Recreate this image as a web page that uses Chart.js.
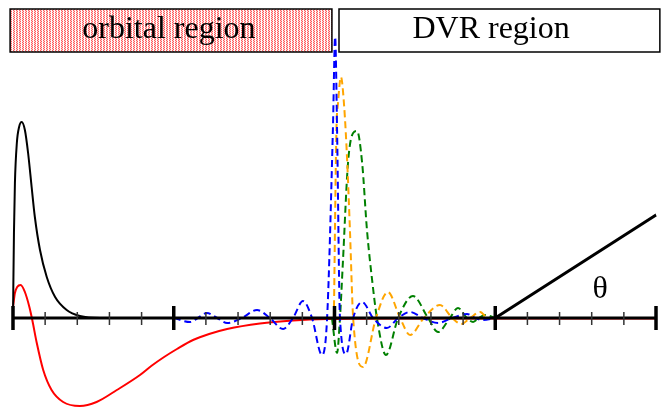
<!DOCTYPE html>
<html>
<head>
<meta charset="utf-8">
<script src="https://cdn.jsdelivr.net/npm/chart.js"></script>
<style>
  body { margin: 0; background: #fff; }
  canvas { display: block; }
</style>
</head>
<body>
<canvas id="fig" width="668" height="409"></canvas>
<script>
// radial coordinate r (0..20) and amplitude (arbitrary units)
const blackR = [0, 0.03, 0.06, 0.12, 0.19, 0.27, 0.37, 0.47, 0.58, 0.68, 0.84, 1.05, 1.31, 1.67, 2.08, 2.71, 5.0];
const blackY = [0, 85, 135, 175, 191, 196, 188, 165, 131, 101, 68, 41, 21, 8, 2, 0, 0];

const redR = [0, 0.06, 0.13, 0.24, 0.37, 0.51, 0.60, 0.74, 0.94, 1.20, 1.56, 2.08, 2.60, 3.23, 3.95, 4.30, 4.70, 5.10, 5.60, 6.10, 6.66, 7.68, 8.71, 9.77, 12.0, 20.0];
const redY = [11, 25, 31, 33, 26, 11, -2, -25, -52, -72, -84, -88, -84, -72, -57, -48, -39, -31, -22, -16, -11, -5.5, -2.5, -1, -0.5, -0.5];

const blueR = [5.0, 5.51, 5.75, 6.03, 6.35, 6.66, 7.12, 7.59, 7.99, 8.40, 8.71, 9.02, 9.30, 9.61, 9.77, 9.95, 10.02, 10.08, 10.17, 10.36, 10.58, 10.86, 11.20, 11.63, 11.98, 12.35, 12.75, 13.22, 13.66, 14.12, 14.37, 14.59, 15.0];
const blueY = [0, -4, 0, 5, 0, -5, 0, 8, 0, -11, 0, 17, 0, -37, 0, 188, 281, 188, 0, -36, 0, 16, 0, -10, 0, 6, 0, -5, 0, 4, 0, -2, 0];

const orangeR = [9.98, 10.06, 10.11, 10.20, 10.30, 10.39, 10.48, 10.58, 10.89, 11.29, 11.66, 12.04, 12.35, 12.78, 13.28, 13.66, 13.94, 14.22, 14.53, 14.77, 15.0];
const orangeY = [0, 188, 215, 241, 212, 160, 88, 0, -49, 0, 26, 0, -17, 0, 13, 0, -6, 0, 6, 0, 0];

const greenR = [9.92, 10.08, 10.17, 10.26, 10.42, 10.58, 10.70, 10.86, 11.01, 11.17, 11.32, 11.60, 11.98, 12.44, 12.91, 13.22, 13.59, 13.84, 14.12, 14.31, 14.49, 14.68, 15.0];
const greenY = [0, -35, 0, 55, 155, 185, 187, 155, 88, 38, 0, -37, 0, 22, 0, -14, 0, 10, 0, -4, 0, 3, 0];

const axisR = [0, 20];
const axisY = [0, 0];
const thetaR = [15, 20];
const thetaY = [0, 103];

const tickR = [0, 1, 2, 3, 4, 5, 6, 7, 8, 9, 10, 11, 12, 13, 14, 15, 16, 17, 18, 19, 20];
const majorTickR = [0, 5, 10, 15, 20];

const regionLabels = ['orbital region', 'DVR region'];

function pts(xs, ys) {
    return xs.map((x, i) => ({ x: x, y: ys[i] }));
}

// small pink/red dotted tile for the orbital region box
function makePattern(ctx) {
    const c = document.createElement('canvas');
    c.width = 3; c.height = 2;
    const p = c.getContext('2d');
    const cols = [['#ffffff', '#ff5c5c', '#ffd0d0'], ['#ffffff', '#ffd0d0', '#ff5c5c']];
    for (let j = 0; j < 2; j++) {
        for (let i = 0; i < 3; i++) {
            p.fillStyle = cols[j][i];
            p.fillRect(i, j, 1, 1);
        }
    }
    return ctx.createPattern(c, 'repeat');
}

const decorPlugin = {
    id: 'decor',
    beforeDatasetsDraw(chart) {
        const ctx = chart.ctx;
        const xs = chart.scales.x, ys = chart.scales.y;
        ctx.save();
        // region boxes
        const boxes = [
            { r0: -0.09, r1: 9.92, fill: makePattern(ctx) },
            { r0: 10.14, r1: 20.12, fill: '#ffffff' }
        ];
        const top = ys.getPixelForValue(309), bot = ys.getPixelForValue(266);
        boxes.forEach(b => {
            const x0 = xs.getPixelForValue(b.r0), x1 = xs.getPixelForValue(b.r1);
            ctx.fillStyle = b.fill;
            ctx.fillRect(x0, top, x1 - x0, bot - top);
            ctx.strokeStyle = '#000';
            ctx.lineWidth = 1.5;
            ctx.strokeRect(x0, top, x1 - x0, bot - top);
        });
        ctx.fillStyle = '#000';
        ctx.font = '32px "Liberation Serif", "DejaVu Serif", serif';
        ctx.textAlign = 'center';
        ctx.textBaseline = 'alphabetic';
        ctx.fillText(regionLabels[0], xs.getPixelForValue(4.85), ys.getPixelForValue(280));
        ctx.fillText(regionLabels[1], xs.getPixelForValue(14.87), ys.getPixelForValue(280));
        ctx.fillText('\u03b8', xs.getPixelForValue(18.26), ys.getPixelForValue(20));
        ctx.restore();
    },
    afterDatasetsDraw(chart) {
        const ctx = chart.ctx;
        const xs = chart.scales.x, ys = chart.scales.y;
        const y0 = ys.getPixelForValue(0);
        ctx.save();
        tickR.forEach(r => {
            const x = xs.getPixelForValue(r);
            const major = majorTickR.includes(r);
            ctx.beginPath();
            ctx.strokeStyle = major ? '#000' : '#333';
            ctx.lineWidth = major ? 3.5 : 1.5;
            ctx.moveTo(x, y0 - (major ? 12 : 6));
            ctx.lineTo(x, y0 + (major ? 12 : 7));
            ctx.stroke();
        });
        ctx.restore();
    }
};

const dashed = [7, 4];

new Chart(document.getElementById('fig'), {
    type: 'line',
    data: {
        datasets: [
            { data: pts(axisR, axisY), borderColor: '#000', borderWidth: 3, order: 0 },
            { data: pts(thetaR, thetaY), borderColor: '#000', borderWidth: 3, order: 0 },
            { data: pts(blueR, blueY), borderColor: '#0000ff', borderWidth: 2, borderDash: dashed, order: 1 },
            { data: pts(orangeR, orangeY), borderColor: '#ffa500', borderWidth: 2, borderDash: dashed, order: 2 },
            { data: pts(greenR, greenY), borderColor: '#008000', borderWidth: 2, borderDash: dashed, order: 3 },
            { data: pts(blackR, blackY), borderColor: '#000', borderWidth: 2, order: 4 },
            { data: pts(redR, redY), borderColor: '#ff0000', borderWidth: 2, order: 5 }
        ]
    },
    options: {
        responsive: false,
        devicePixelRatio: 1,
        animation: false,
        layout: { padding: 0 },
        elements: {
            point: { radius: 0 },
            line: { cubicInterpolationMode: 'monotone', fill: false }
        },
        plugins: { legend: { display: false }, tooltip: { enabled: false } },
        scales: {
            x: { type: 'linear', min: -0.404, max: 20.373, display: false },
            y: { type: 'linear', min: -91, max: 318, display: false }
        }
    },
    plugins: [decorPlugin]
});
</script>
</body>
</html>
